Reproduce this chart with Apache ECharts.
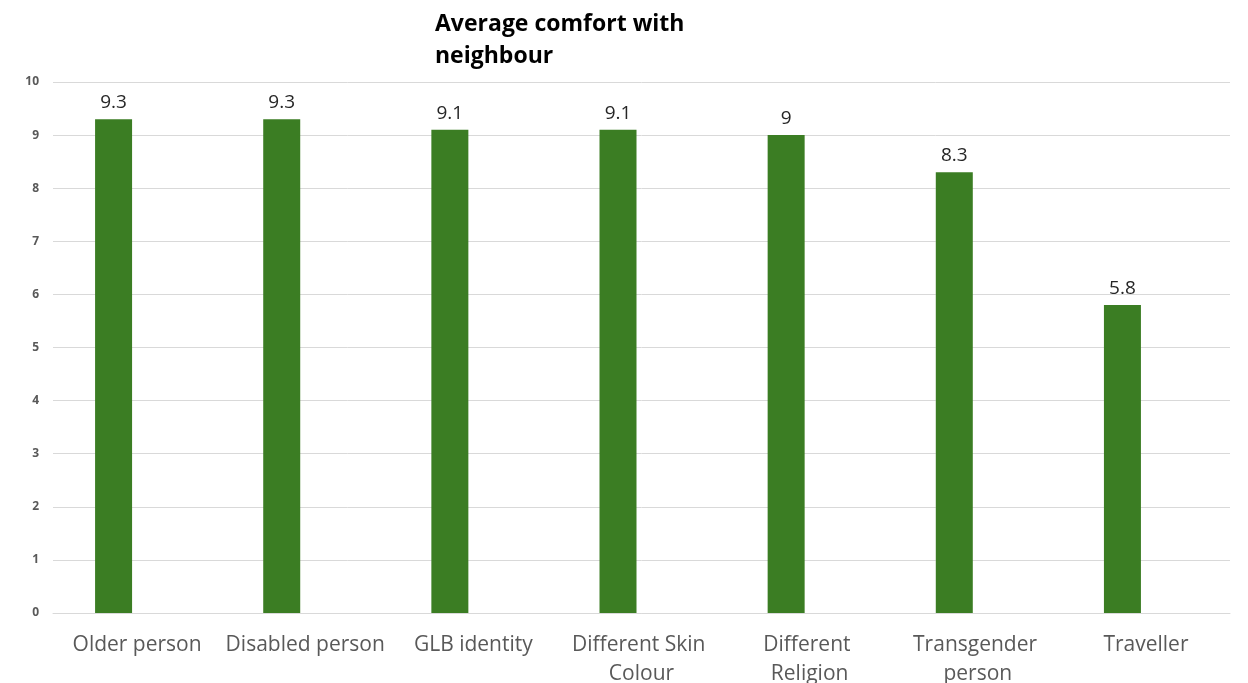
<!DOCTYPE html>
<html>
<head>
<meta charset="utf-8">
<script src="https://cdn.jsdelivr.net/npm/echarts@6/dist/echarts.min.js"></script>
<style>
  html, body { margin: 0; padding: 0; background: #ffffff; }
  #chart { width: 1248px; height: 683px; }
</style>
</head>
<body>
<div id="chart"></div>
<script>
// Survey groups and the average comfort score for each as a neighbour
const categories = ['Older person', 'Disabled person', 'GLB identity', 'Different Skin Colour', 'Different Religion', 'Transgender person', 'Traveller'];
const comfortScores = [9.3, 9.3, 9.1, 9.1, 9, 8.3, 5.8];
// Empty companion series keeps the clustered layout (bars sit left of centre)
const companionScores = [null, null, null, null, null, null, null];
const yTicks = { min: 0, max: 10, interval: 1 };

const chart = echarts.init(document.getElementById('chart'), null, { renderer: 'canvas' });

chart.setOption({
  animation: false,
  title: {
    text: 'Average comfort with\nneighbour',
    left: 430,
    top: 3,
    textStyle: {
      fontFamily: '"Open Sans", sans-serif',
      fontSize: 23,
      fontWeight: 'bold',
      color: '#000000',
      lineHeight: 32
    }
  },
  grid: { left: 53, right: 18, top: 82, bottom: 70, containLabel: false, outerBoundsMode: 'none' },
  xAxis: {
    type: 'category',
    data: categories,
    axisLine: { show: true, lineStyle: { color: '#d9d9d9', width: 1 } },
    axisTick: { show: false },
    axisLabel: {
      interval: 0,
      margin: 18,
      color: '#595959',
      fontFamily: '"Open Sans", sans-serif',
      fontSize: 21,
      lineHeight: 29,
      width: 166,
      overflow: 'break'
    }
  },
  yAxis: {
    type: 'value',
    min: yTicks.min,
    max: yTicks.max,
    interval: yTicks.interval,
    axisLine: { show: false },
    axisTick: { show: false },
    splitLine: { lineStyle: { color: '#d9d9d9', width: 1 } },
    axisLabel: {
      margin: 14,
      color: '#595959',
      fontFamily: '"Open Sans", sans-serif',
      fontSize: 12,
      fontWeight: 'bold'
    }
  },
  series: [
    {
      type: 'bar',
      data: comfortScores,
      barWidth: 37,
      barGap: '27%',
      itemStyle: { color: '#3b7d23' },
      label: {
        show: true,
        position: 'top',
        distance: 7,
        color: '#262626',
        fontFamily: '"Open Sans", sans-serif',
        fontSize: 19
      }
    },
    {
      type: 'bar',
      data: companionScores,
      barWidth: 37,
      itemStyle: { color: '#3b7d23' }
    }
  ]
});
</script>
</body>
</html>
